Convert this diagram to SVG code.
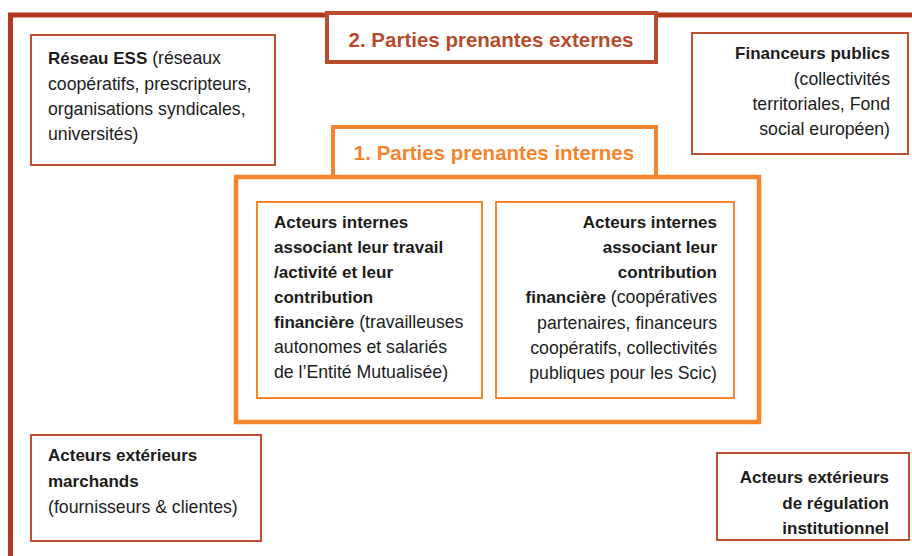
<svg xmlns="http://www.w3.org/2000/svg" width="912" height="556" viewBox="0 0 912 556">
<style>
  .frame{fill:none;stroke:#B2391E;stroke-width:5}
  .ext{fill:#fff;stroke:#C0502F;stroke-width:2}
  .extTitle{fill:#fff;stroke:#B84B2B;stroke-width:4}
  .intTitle{fill:#fff;stroke:#F5842C;stroke-width:4}
  .intBig{fill:#fff;stroke:#F5842C;stroke-width:4.5}
  .int{fill:#fff;stroke:#F5842C;stroke-width:2}
  text{font-family:"Liberation Sans",Arial,sans-serif;font-size:17.7px;fill:#1c1c1c}
  .b{font-weight:bold;font-size:17px}
  .t1{font-size:20.5px;font-weight:bold;fill:#B84B2B}
  .t2{font-size:20.5px;font-weight:bold;fill:#F5842C}
  .r{text-anchor:end}
</style>
<rect width="912" height="556" fill="#fff"/>
<g id="connectors">
  <path class="frame" d="M10.5,556 V15 H912"/>
</g>
<g id="ext-title">
  <rect class="extTitle" x="327" y="13" width="329" height="49"/>
  <text class="t1" x="491" y="47" text-anchor="middle">2. Parties prenantes externes</text>
</g>
<g id="reseau-ess">
  <rect class="ext" x="31" y="35" width="244" height="130"/>
  <text x="48" y="64"><tspan class="b">Réseau ESS</tspan> (réseaux</text>
  <text x="48" y="90">coopératifs, prescripteurs,</text>
  <text x="48" y="115">organisations syndicales,</text>
  <text x="48" y="140">universités)</text>
</g>
<g id="financeurs-publics">
  <rect class="ext" x="692" y="33" width="216" height="121"/>
  <text class="r" x="890" y="59"><tspan class="b">Financeurs publics</tspan></text>
  <text class="r" x="890" y="85">(collectivités</text>
  <text class="r" x="890" y="110">territoriales, Fond</text>
  <text class="r" x="890" y="135">social européen)</text>
</g>
<g id="internes">
  <rect class="intTitle" x="333" y="127" width="323" height="50"/>
  <rect class="intBig" x="236" y="177" width="523" height="245"/>
  <text class="t2" x="494" y="160" text-anchor="middle">1. Parties prenantes internes</text>
</g>
<g id="acteurs-travail">
  <rect class="int" x="257" y="202" width="225" height="196"/>
  <text class="b" x="274" y="228">Acteurs internes</text>
  <text class="b" x="274" y="253">associant leur travail</text>
  <text class="b" x="274" y="278">/activité et leur</text>
  <text class="b" x="274" y="303">contribution</text>
  <text x="274" y="328"><tspan class="b">financière</tspan> (travailleuses</text>
  <text x="274" y="353">autonomes et salariés</text>
  <text x="274" y="378">de l’Entité Mutualisée)</text>
</g>
<g id="acteurs-financiers">
  <rect class="int" x="496" y="202" width="238" height="196"/>
  <text class="b r" x="717" y="228">Acteurs internes</text>
  <text class="b r" x="717" y="253">associant leur</text>
  <text class="b r" x="717" y="278">contribution</text>
  <text class="r" x="717" y="303"><tspan class="b">financière</tspan> (coopératives</text>
  <text class="r" x="717" y="329">partenaires, financeurs</text>
  <text class="r" x="717" y="354">coopératifs, collectivités</text>
  <text class="r" x="717" y="379">publiques pour les Scic)</text>
</g>
<g id="marchands">
  <rect class="ext" x="31" y="435" width="230" height="106"/>
  <text class="b" x="48" y="461">Acteurs extérieurs</text>
  <text class="b" x="48" y="487">marchands</text>
  <text x="48" y="513">(fournisseurs &amp; clientes)</text>
</g>
<g id="regulation">
  <rect class="ext" x="717" y="453" width="192" height="87"/>
  <text class="b r" x="889" y="483">Acteurs extérieurs</text>
  <text class="b r" x="889" y="509">de régulation</text>
  <text class="b r" x="889" y="534">institutionnel</text>
</g>
</svg>
